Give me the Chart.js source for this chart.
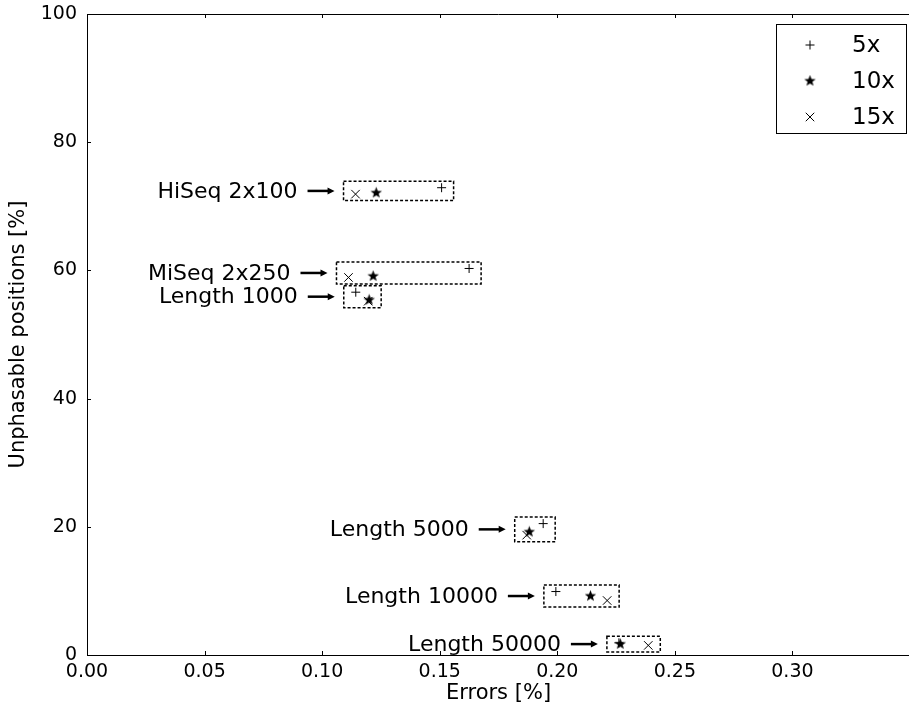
<!DOCTYPE html>
<html>
<head>
<meta charset="utf-8">
<script src="https://cdn.jsdelivr.net/npm/chart.js@4/dist/chart.umd.min.js"></script>
<style>
  html, body { margin: 0; padding: 0; background: #fff; overflow: hidden; }
</style>
</head>
<body>
<canvas id="chart" width="917" height="715"></canvas>
<script>
// Data
const groups = ["HiSeq 2x100", "MiSeq 2x250", "Length 1000", "Length 5000", "Length 10000", "Length 50000"];
const errors5x = [0.1508, 0.1625, 0.1143, 0.1940, 0.1994, 0.2262];
const unphased5x = [72.9, 60.3, 56.6, 20.5, 9.9, 1.9];
const errors10x = [0.1230, 0.1217, 0.1200, 0.1881, 0.2141, 0.2268];
const unphased10x = [72.1, 59.1, 55.4, 19.2, 9.2, 1.7];
const errors15x = [0.1142, 0.1112, 0.1196, 0.1870, 0.2212, 0.2387];
const unphased15x = [71.9, 58.9, 55.2, 18.7, 8.5, 1.5];
const xTicks = [0, 0.05, 0.10, 0.15, 0.20, 0.25, 0.30];
const yTicks = [0, 20, 40, 60, 80, 100];

const FONT = "'DejaVu Sans', sans-serif";

function toPoints(xs, ys) {
  return xs.map((x, i) => ({ x: x, y: ys[i] }));
}

// filled five point star used as a point image
function makeStar(size) {
  const c = document.createElement("canvas");
  c.width = size;
  c.height = size;
  const g = c.getContext("2d");
  const cx = size / 2, cy = size / 2;
  const outer = size / 2 - 0.5, inner = outer * 0.42;
  g.beginPath();
  for (let i = 0; i < 10; i++) {
    const r = i % 2 === 0 ? outer : inner;
    const a = -Math.PI / 2 + i * Math.PI / 5;
    const px = cx + r * Math.cos(a), py = cy + r * Math.sin(a);
    if (i === 0) g.moveTo(px, py); else g.lineTo(px, py);
  }
  g.closePath();
  g.fillStyle = "#000";
  g.fill();
  return c;
}
const starImg = makeStar(13);

// dashed boxes, arrows and labels around each group of points
const annotations = {
  id: "annotations",
  afterDatasetsDraw(chart) {
    const ctx = chart.ctx;
    const xs = chart.scales.x, ys = chart.scales.y;
    groups.forEach((name, i) => {
      const px = [errors5x[i], errors10x[i], errors15x[i]].map((v) => xs.getPixelForValue(v));
      const py = [unphased5x[i], unphased10x[i], unphased15x[i]].map((v) => ys.getPixelForValue(v));
      const left = Math.min(...px) - 12, right = Math.max(...px) + 12;
      const top = Math.min(...py) - 6.5, bottom = Math.max(...py) + 6.5;
      const mid = (top + bottom) / 2;

      ctx.save();
      ctx.strokeStyle = "#000";
      ctx.lineWidth = 1.5;
      ctx.setLineDash([3, 2]);
      ctx.strokeRect(left, top, right - left, bottom - top);
      ctx.setLineDash([]);

      // arrow
      const tail = left - 36, tip = left - 9;
      ctx.lineWidth = 2.5;
      ctx.beginPath();
      ctx.moveTo(tail, mid);
      ctx.lineTo(tip - 5, mid);
      ctx.stroke();
      ctx.beginPath();
      ctx.moveTo(tip, mid);
      ctx.lineTo(tip - 7, mid - 3.5);
      ctx.lineTo(tip - 7, mid + 3.5);
      ctx.closePath();
      ctx.fillStyle = "#000";
      ctx.fill();

      ctx.font = "22px " + FONT;
      ctx.textAlign = "right";
      ctx.textBaseline = "middle";
      ctx.fillText(name, left - 46, mid + 1);
      ctx.restore();
    });
  },
};

// inward ticks, top spine, axis titles and the legend box
const frame = {
  id: "frame",
  afterDraw(chart) {
    const ctx = chart.ctx;
    const area = chart.chartArea;
    const xs = chart.scales.x, ys = chart.scales.y;
    ctx.save();
    ctx.strokeStyle = "#000";
    ctx.lineWidth = 1;
    ctx.beginPath();
    ctx.moveTo(area.left, area.top + 0.5);
    ctx.lineTo(area.right, area.top + 0.5);
    ctx.stroke();

    ctx.beginPath();
    xTicks.forEach((v) => {
      const x = Math.round(xs.getPixelForValue(v)) + 0.5;
      ctx.moveTo(x, area.bottom);
      ctx.lineTo(x, area.bottom - 4);
      ctx.moveTo(x, area.top);
      ctx.lineTo(x, area.top + 4);
    });
    yTicks.forEach((v) => {
      const y = Math.round(ys.getPixelForValue(v)) + 0.5;
      ctx.moveTo(area.left, y);
      ctx.lineTo(area.left + 4, y);
    });
    ctx.stroke();

    ctx.fillStyle = "#000";
    ctx.font = "21px " + FONT;
    ctx.textAlign = "center";
    ctx.textBaseline = "middle";
    ctx.fillText("Errors [%]", (area.left + area.right) / 2, 694);
    ctx.save();
    ctx.translate(19, (area.top + area.bottom) / 2);
    ctx.rotate(-Math.PI / 2);
    ctx.fillText("Unphasable positions [%]", 0, 0);
    ctx.restore();

    // legend
    const lx = 776, ly = 24, lw = 130, lh = 109;
    ctx.fillStyle = "#fff";
    ctx.fillRect(lx, ly, lw, lh);
    ctx.strokeRect(lx + 0.5, ly + 0.5, lw, lh);
    const rows = [45, 81, 117];
    chart.data.datasets.forEach((ds, i) => {
      Chart.helpers.drawPoint(ctx, {
        pointStyle: ds.pointStyle,
        radius: ds.pointRadius,
        rotation: 0,
        borderWidth: ds.borderWidth,
      }, 810, rows[i]);
      ctx.fillStyle = "#000";
      ctx.font = "23px " + FONT;
      ctx.textAlign = "left";
      ctx.textBaseline = "middle";
      ctx.fillText(ds.label, 852, rows[i] + 1);
    });
    ctx.restore();
  },
};

const pointBase = {
  showLine: false,
  borderColor: "#000",
  backgroundColor: "#000",
};

new Chart(document.getElementById("chart"), {
  type: "scatter",
  data: {
    datasets: [
      Object.assign({}, pointBase, {
        label: "5x",
        data: toPoints(errors5x, unphased5x),
        pointStyle: "cross",
        pointRadius: 4.5,
        borderWidth: 1,
      }),
      Object.assign({}, pointBase, {
        label: "10x",
        data: toPoints(errors10x, unphased10x),
        pointStyle: starImg,
        pointRadius: 6,
        borderWidth: 1,
      }),
      Object.assign({}, pointBase, {
        label: "15x",
        data: toPoints(errors15x, unphased15x),
        pointStyle: "crossRot",
        pointRadius: 6,
        borderWidth: 1,
      }),
    ],
  },
  options: {
    responsive: false,
    animation: false,
    layout: { padding: { top: 14, left: 0, right: 0, bottom: 0 } },
    plugins: {
      legend: { display: false },
      tooltip: { enabled: false },
    },
    scales: {
      x: {
        type: "linear",
        min: 0,
        max: 0.35,
        grid: { display: false, drawTicks: false },
        border: { display: true, color: "#000", width: 1 },
        afterFit: (scale) => {
          scale.height = 60;
          scale.paddingLeft = 0;
          scale.paddingRight = 0;
        },
        afterBuildTicks: (scale) => { scale.ticks = xTicks.map((v) => ({ value: v })); },
        ticks: {
          padding: 6,
          color: "#000",
          font: { family: FONT, size: 19 },
          callback: (v) => v.toFixed(2),
        },
      },
      y: {
        type: "linear",
        min: 0,
        max: 100,
        grid: { display: false, drawTicks: false },
        border: { display: true, color: "#000", width: 1 },
        afterFit: (scale) => {
          scale.width = 87;
          scale.paddingTop = 0;
          scale.paddingBottom = 0;
        },
        afterBuildTicks: (scale) => { scale.ticks = yTicks.map((v) => ({ value: v })); },
        ticks: {
          padding: 10,
          color: "#000",
          font: { family: FONT, size: 19 },
        },
      },
    },
  },
  plugins: [annotations, frame],
});
</script>
</body>
</html>
